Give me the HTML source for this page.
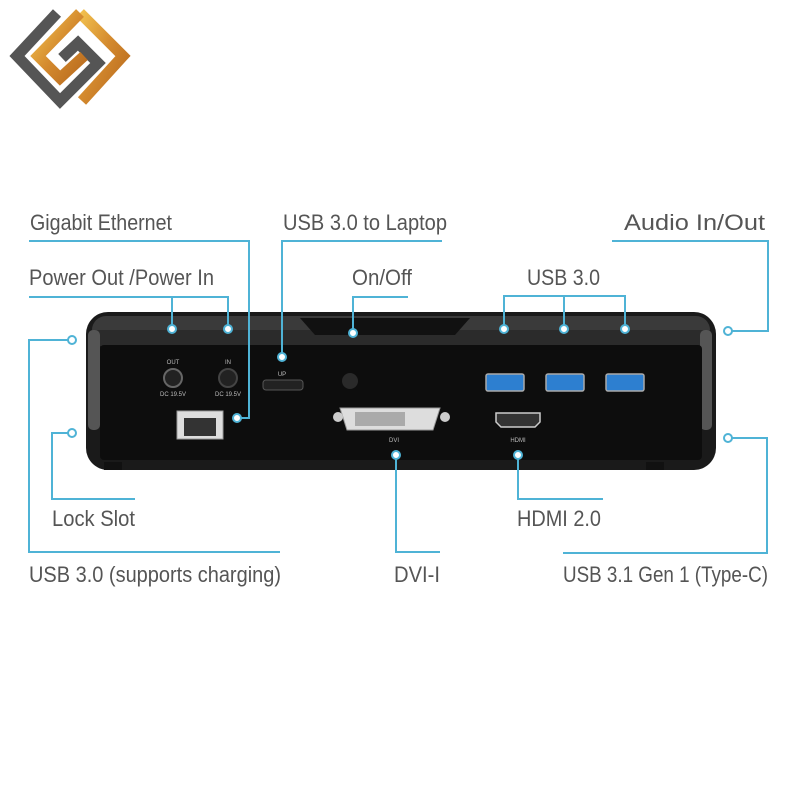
<!DOCTYPE html>
<html><head><meta charset="utf-8"><style>
html,body{margin:0;padding:0;background:#fff;width:800px;height:800px;overflow:hidden}
svg{display:block}
text{font-family:"Liberation Sans Narrow","Liberation Sans",sans-serif;font-size:22px;fill:#555}
</style></head><body>
<svg width="800" height="800" viewBox="0 0 800 800" xmlns="http://www.w3.org/2000/svg">
<defs>
<linearGradient id="gold" x1="0" y1="0" x2="1" y2="1">
<stop offset="0" stop-color="#f2c14e"/><stop offset="0.5" stop-color="#d48a2e"/><stop offset="1" stop-color="#b86a1e"/>
</linearGradient>
</defs>
<!-- logo -->
<g fill="none" stroke-linejoin="miter" stroke-width="11">
<polyline points="57,13 17,56 60,101 98,63 78,43 62,58" stroke="#555"/>
<polyline points="80,13 123,56 82,101" stroke="url(#gold)"/>
<polyline points="80,13 38,56 60,78 84,56" stroke="url(#gold)"/>
</g>
<!-- device -->
<rect x="86" y="312" width="630" height="158" rx="22" fill="#1a1a1a"/>
<rect x="92" y="316" width="618" height="30" rx="14" fill="#3a3a3a"/>
<rect x="92" y="330" width="618" height="16" fill="#2b2b2b"/>
<path d="M300,318 L470,318 L455,335 L315,335 Z" fill="#111"/>
<rect x="88" y="330" width="12" height="100" rx="5" fill="#555"/>
<rect x="700" y="330" width="12" height="100" rx="5" fill="#555"/>
<rect x="100" y="345" width="602" height="115" rx="4" fill="#0d0d0d"/>
<rect x="104" y="462" width="18" height="8" fill="#111"/>
<rect x="646" y="462" width="18" height="8" fill="#111"/>
<!-- ports -->
<circle cx="173" cy="378" r="9" fill="#222" stroke="#666" stroke-width="2"/>
<circle cx="228" cy="378" r="9" fill="#222" stroke="#444" stroke-width="2"/>
<text x="173" y="364" text-anchor="middle" style="font-size:6px;fill:#bbb">OUT</text>
<text x="228" y="364" text-anchor="middle" style="font-size:6px;fill:#bbb">IN</text>
<text x="173" y="396" text-anchor="middle" style="font-size:6px;fill:#bbb">DC 19.5V</text>
<text x="228" y="396" text-anchor="middle" style="font-size:6px;fill:#bbb">DC 19.5V</text>
<text x="282" y="376" text-anchor="middle" style="font-size:6px;fill:#bbb">UP</text>
<rect x="263" y="380" width="40" height="10" rx="3" fill="#222" stroke="#555"/>
<circle cx="350" cy="381" r="8" fill="#2a2a2a"/>
<rect x="486" y="374" width="38" height="17" rx="2" fill="#2d7fd0" stroke="#aaa" stroke-width="1.5"/>
<rect x="546" y="374" width="38" height="17" rx="2" fill="#2d7fd0" stroke="#aaa" stroke-width="1.5"/>
<rect x="606" y="374" width="38" height="17" rx="2" fill="#2d7fd0" stroke="#aaa" stroke-width="1.5"/>
<rect x="177" y="411" width="46" height="28" fill="#ddd" stroke="#999"/>
<rect x="184" y="418" width="32" height="18" fill="#333"/>
<path d="M340,408 L440,408 L433,430 L347,430 Z" fill="#ddd" stroke="#999"/>
<circle cx="338" cy="417" r="5" fill="#ccc"/><circle cx="445" cy="417" r="5" fill="#ccc"/>
<rect x="355" y="412" width="50" height="14" fill="#aaa"/>
<text x="394" y="442" text-anchor="middle" style="font-size:6px;fill:#bbb">DVI</text>
<path d="M496,413 L540,413 L540,422 L535,427 L501,427 L496,422 Z" fill="#333" stroke="#ccc" stroke-width="1.5"/>
<text x="518" y="442" text-anchor="middle" style="font-size:6px;fill:#bbb">HDMI</text>
<!-- connectors -->
<g fill="none" stroke="#4fb3d6" stroke-width="2">
<polyline points="29,241 249,241 249,418 241,418"/>
<polyline points="29,297 228,297 228,329"/>
<polyline points="172,297 172,329"/>
<polyline points="442,241 282,241 282,353"/>
<polyline points="353,333 353,297 408,297"/>
<polyline points="504,329 504,296 625,296 625,329"/>
<polyline points="564,296 564,329"/>
<polyline points="612,241 768,241 768,331 732,331"/>
<polyline points="68,340 29,340 29,552 280,552"/>
<polyline points="68,433 52,433 52,499 135,499"/>
<polyline points="396,459 396,552 440,552"/>
<polyline points="518,459 518,499 603,499"/>
<polyline points="732,438 767,438 767,553 563,553"/>
</g>
<g fill="#fff" stroke="#4fb3d6" stroke-width="2">
<circle cx="237" cy="418" r="4"/><circle cx="172" cy="329" r="4"/><circle cx="228" cy="329" r="4"/>
<circle cx="282" cy="357" r="4"/><circle cx="353" cy="333" r="4"/>
<circle cx="504" cy="329" r="4"/><circle cx="564" cy="329" r="4"/><circle cx="625" cy="329" r="4"/>
<circle cx="728" cy="331" r="4"/><circle cx="72" cy="340" r="4"/><circle cx="72" cy="433" r="4"/>
<circle cx="396" cy="455" r="4"/><circle cx="518" cy="455" r="4"/><circle cx="728" cy="438" r="4"/>
</g>
<!-- labels -->
<text x="30" y="230" textLength="142" lengthAdjust="spacingAndGlyphs">Gigabit Ethernet</text>
<text x="29" y="285" textLength="185" lengthAdjust="spacingAndGlyphs">Power Out /Power In</text>
<text x="283" y="230" textLength="164" lengthAdjust="spacingAndGlyphs">USB 3.0 to Laptop</text>
<text x="352" y="285" textLength="60" lengthAdjust="spacingAndGlyphs">On/Off</text>
<text x="527" y="285" textLength="73" lengthAdjust="spacingAndGlyphs">USB 3.0</text>
<text x="624" y="230" textLength="141" lengthAdjust="spacingAndGlyphs">Audio In/Out</text>
<text x="52" y="526" textLength="83" lengthAdjust="spacingAndGlyphs">Lock Slot</text>
<text x="29" y="582" textLength="252" lengthAdjust="spacingAndGlyphs">USB 3.0 (supports charging)</text>
<text x="394" y="582" textLength="46" lengthAdjust="spacingAndGlyphs">DVI-I</text>
<text x="517" y="526" textLength="84" lengthAdjust="spacingAndGlyphs">HDMI 2.0</text>
<text x="563" y="582" textLength="205" lengthAdjust="spacingAndGlyphs">USB 3.1 Gen 1 (Type-C)</text>
</svg>
</body></html>
